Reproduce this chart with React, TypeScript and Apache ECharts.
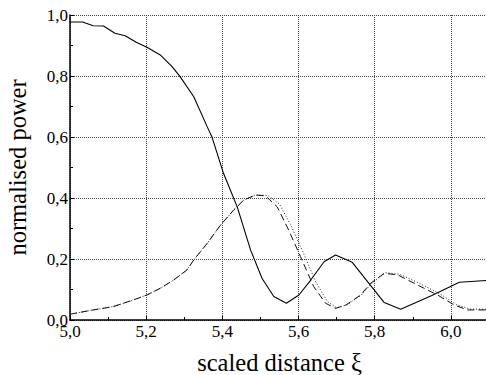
import React, { useEffect, useRef } from "react";
import * as echarts from "echarts";

const solidX = [5.0, 5.033, 5.061, 5.088, 5.118, 5.145, 5.175, 5.202, 5.237, 5.268, 5.289, 5.325, 5.36, 5.373, 5.403, 5.439, 5.474, 5.504, 5.535, 5.568, 5.601, 5.632, 5.667, 5.697, 5.741, 5.825, 5.868, 5.95, 6.022, 6.1];
const solidY = [0.977, 0.977, 0.965, 0.964, 0.94, 0.932, 0.91, 0.894, 0.869, 0.831, 0.798, 0.732, 0.634, 0.599, 0.481, 0.371, 0.23, 0.137, 0.077, 0.055, 0.082, 0.131, 0.191, 0.213, 0.189, 0.057, 0.035, 0.08, 0.124, 0.13];

const dashedX = [5.0, 5.061, 5.114, 5.167, 5.202, 5.237, 5.272, 5.307, 5.325, 5.36, 5.395, 5.43, 5.456, 5.487, 5.513, 5.544, 5.574, 5.605, 5.64, 5.671, 5.697, 5.724, 5.763, 5.789, 5.825, 5.86, 5.912, 5.965, 6.009, 6.044, 6.1];
const dashedY = [0.019, 0.033, 0.044, 0.066, 0.082, 0.104, 0.131, 0.164, 0.197, 0.251, 0.311, 0.361, 0.393, 0.41, 0.407, 0.371, 0.295, 0.208, 0.109, 0.055, 0.038, 0.049, 0.082, 0.12, 0.153, 0.148, 0.115, 0.082, 0.049, 0.033, 0.033];

const dottedX = [5.0, 5.061, 5.114, 5.167, 5.202, 5.237, 5.272, 5.307, 5.325, 5.36, 5.395, 5.43, 5.456, 5.487, 5.52, 5.55, 5.58, 5.612, 5.645, 5.676, 5.7, 5.728, 5.765, 5.792, 5.828, 5.865, 5.918, 5.972, 6.015, 6.05, 6.1];
const dottedY = [0.019, 0.033, 0.044, 0.066, 0.082, 0.104, 0.131, 0.164, 0.197, 0.251, 0.311, 0.361, 0.393, 0.41, 0.408, 0.38, 0.31, 0.222, 0.125, 0.06, 0.04, 0.05, 0.082, 0.12, 0.155, 0.15, 0.12, 0.085, 0.05, 0.036, 0.035];

const xLabelName = "scaled distance ξ";
const yLabelName = "normalised power";

const pairs = (xs: number[], ys: number[]) => xs.map((x, i) => [x, ys[i]]);
const fmt = (v: number) => v.toFixed(1).replace(".", ",");

export default function App() {
  const ref = useRef<HTMLDivElement>(null);
  useEffect(() => {
    document.body.style.margin = "0";
    const chart = echarts.init(ref.current!, null, { renderer: "svg" });
    const font = "Liberation Serif";
    const gridLine = { show: true, lineStyle: { type: "dotted" as const, color: "#444", width: 1 } };
    chart.setOption({
      animation: false,
      backgroundColor: "#fff",
      textStyle: { fontFamily: font },
      grid: { left: 70, right: -3, top: 15, bottom: 55, containLabel: false, outerBoundsMode: "none" },
      xAxis: {
        type: "value",
        min: 5.0,
        max: 6.1,
        interval: 0.2,
        name: xLabelName,
        nameLocation: "middle",
        nameGap: 30,
        nameTextStyle: { fontFamily: font, fontSize: 24.5, color: "#000" },
        axisLine: { show: true, onZero: false, lineStyle: { color: "#000", width: 1.5 } },
        axisTick: { show: true, inside: true, length: 4, lineStyle: { color: "#000" } },
        minorTick: { show: true, splitNumber: 2, length: 3, lineStyle: { color: "#000" } },
        axisLabel: { formatter: (v: number) => fmt(v), fontFamily: font, fontSize: 17, color: "#000", margin: 3, showMaxLabel: false },
        splitLine: gridLine,
      },
      yAxis: {
        type: "value",
        min: 0,
        max: 1,
        interval: 0.2,
        name: yLabelName,
        nameLocation: "middle",
        nameGap: 40,
        nameTextStyle: { fontFamily: font, fontSize: 24.5, color: "#000" },
        axisLine: { show: true, onZero: false, lineStyle: { color: "#000", width: 1.5 } },
        axisTick: { show: true, inside: true, length: 4, lineStyle: { color: "#000" } },
        minorTick: { show: true, splitNumber: 2, length: 3, lineStyle: { color: "#000" } },
        axisLabel: { formatter: (v: number) => fmt(v), fontFamily: font, fontSize: 17, color: "#000", margin: 2 },
        splitLine: gridLine,
      },
      series: [
        {
          type: "line",
          data: pairs(dottedX, dottedY),
          symbol: "none",
          lineStyle: { color: "#222", width: 1, type: [1, 2] },
        },
        {
          type: "line",
          data: pairs(dashedX, dashedY),
          symbol: "none",
          lineStyle: { color: "#111", width: 1, type: [7, 4] },
        },
        {
          type: "line",
          data: pairs(solidX, solidY),
          symbol: "none",
          lineStyle: { color: "#000", width: 1.1, type: "solid" },
        },
      ],
    });
    return () => chart.dispose();
  }, []);
  return <div ref={ref} style={{ width: 486, height: 375 }} />;
}
